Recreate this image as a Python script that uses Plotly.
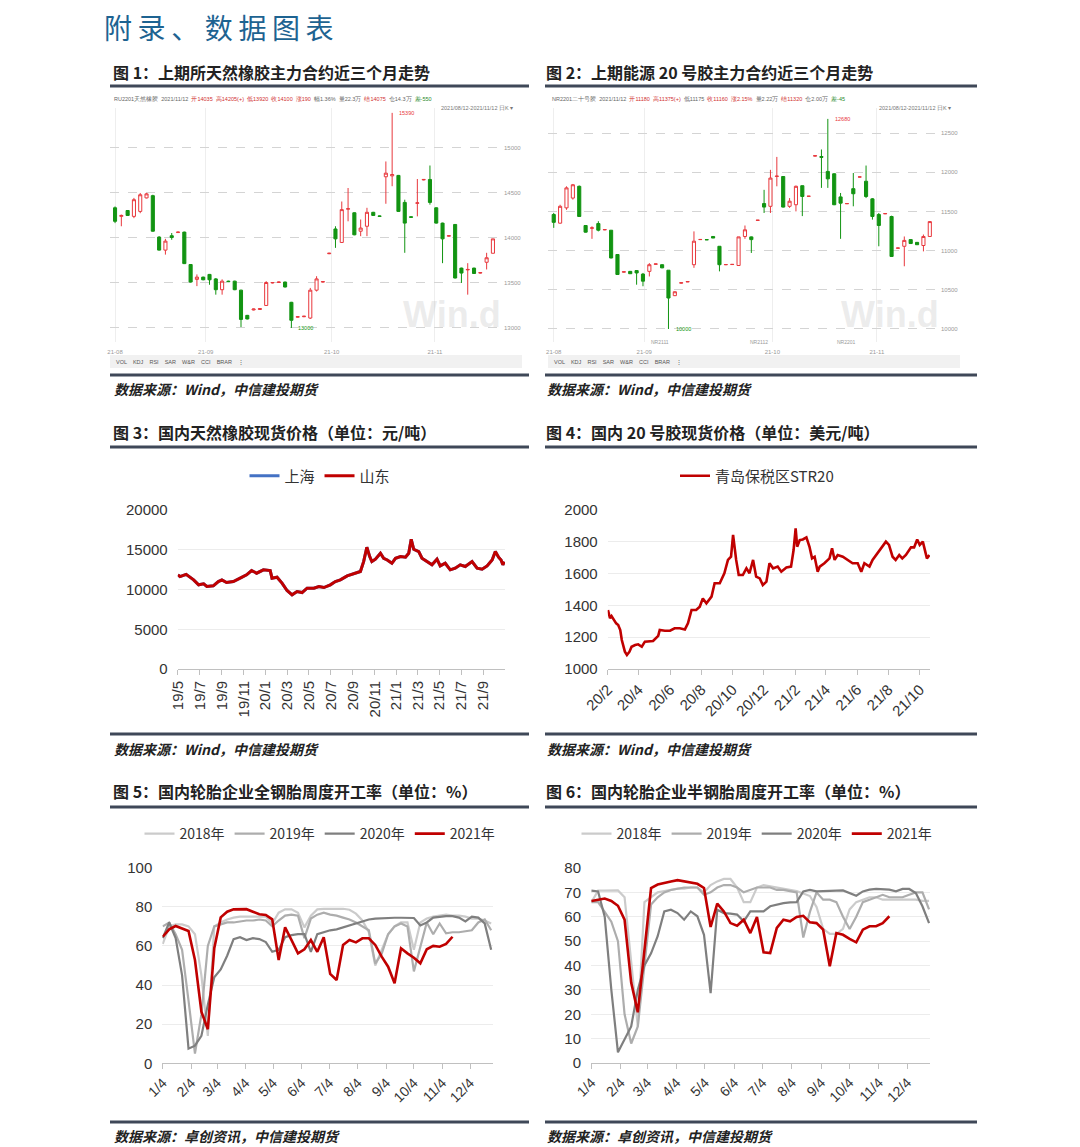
import plotly.graph_objects as go
import pandas as pd

# page is 1080x1147; the html body adds an 8px margin, so the figure starts at (8, 8)
PAGE_OFF = 8
W, H = 1080 - PAGE_OFF, 1147 - PAGE_OFF
def fx(x): return (x - PAGE_OFF) / W
def fy(y): return 1 - (y - PAGE_OFF) / H

# ---------------- data ----------------
# Fig 1: SHFE natural rubber main contract (daily K)
ru_open  = [14335,14240,14305,14240,14295,14445,14470,14010,13865,14025,14060,14065,13705,13540,13565,13595,13545,13425,13520,13520,
            13420,13140,13200,13205,13250,13500,13505,13510,13285,13120,13125,13110,13420,13510,13825,14100,13950,14320,14280,14075,
            14130,14285,14245,14680,14690,14695,14395,14235,14385,14645,14650,14335,14165,14020,14150,13665,13645,13665,13610,13730,13830]
ru_high  = [14350,14260,14310,14445,14500,14500,14480,14020,13990,14055,14070,14070,13710,13595,13570,13600,13555,13540,13525,13525,
            13425,13145,13215,13220,13520,13510,13515,13515,13290,13130,13135,13445,13575,13520,13835,14130,14405,14555,14285,14205,
            14335,14290,14250,14850,15390,14700,14425,14240,14655,14655,14805,14340,14170,14030,14155,13670,13720,13670,13620,13835,13990]
ru_low   = [14165,14130,14245,14220,14275,14440,14070,13860,13815,13980,14055,13710,13505,13465,13530,13480,13370,13370,13510,13420,
            13010,13095,13195,13200,13245,13495,13500,13450,13000,13115,13120,13100,13405,13505,13820,13890,13945,14185,14030,14020,
            14020,14245,14235,14380,14575,14290,13835,14225,14240,14640,14370,14160,13720,14015,13550,13500,13370,13600,13605,13650,13830]
ru_close = [14185,14250,14250,14425,14480,14490,14075,13865,13965,14005,14065,13715,13510,13565,13535,13535,13425,13520,13515,13425,
            13095,13100,13210,13215,13505,13505,13510,13455,13085,13125,13130,13420,13545,13515,13830,13990,14315,14325,14035,14110,
            14285,14250,14240,14720,14705,14295,14165,14230,14390,14650,14395,14165,13990,14025,13555,13610,13650,13605,13615,13780,13990]
ru_tick_pos = [0, 14.4, 34.4, 50.8]
ru_tick_text = ['21-08', '21-09', '21-10', '21-11']
ru_price_ticks = [13000, 13500, 14000, 14500, 15000]

# Fig 2: INE TSR20 main contract (daily K)
nr_open  = [11460,11350,11545,11670,11820,11320,11285,11345,11265,11260,10950,10725,10735,10745,10700,10735,10825,10820,10750,10425,
            10585,10600,10820,11140,11140,11180,11055,10820,10822,10810,11180,11175,11385,11600,11565,11945,11945,11565,11585,11828,
            11692,12205,12200,12010,11980,11685,11598,11790,11938,11885,11660,11460,11470,11435,11030,11055,11140,11105,11065,11180]
nr_high  = [11480,11585,11820,11850,11830,11325,11310,11375,11270,11262,10950,10730,10740,10748,10715,10840,10830,10825,10750,10480,
            10590,10605,11245,11145,11145,11185,11055,10825,10826,11175,11320,11180,11390,11775,12030,12195,11950,11670,11830,11830,
            11696,12215,12290,12680,11985,11735,11605,11990,11942,12085,11670,11480,11475,11445,11035,11180,11145,11110,11205,11375]
nr_low   = [11290,11345,11520,11650,11430,11230,11150,11245,11260,10900,10690,10720,10705,10565,10545,10670,10820,10775,10000,10420,
            10580,10598,10780,11135,11135,11160,10735,10815,10818,10805,11150,10970,11380,11480,11480,11820,11550,11545,11500,11440,
            11688,12200,11800,11800,11580,11150,11595,11565,11935,11670,11395,11055,11465,10920,11025,10800,11090,11075,10990,11180]
nr_close = [11360,11565,11800,11840,11435,11235,11290,11260,11268,10906,10695,10730,10705,10715,10610,10820,10830,10780,10395,10475,
            10590,10605,11120,11142,11138,11160,10820,10822,10824,11175,11265,11140,11388,11555,11925,11950,11555,11630,11820,11690,
            11694,12211,12190,11915,11585,11605,11600,11725,11940,11690,11435,11320,11472,10925,11033,11130,11090,11075,11180,11370]
nr_tick_pos = [0, 14.2, 34.3, 50.7]
nr_tick_text = ['21-08', '21-09', '21-10', '21-11']
nr_contract_pos = [16.6, 32.2, 46]
nr_contract_text = ['NR2111', 'NR2112', 'NR2201']
nr_price_ticks = [10000, 10500, 11000, 11500, 12000, 12500]

# Fig 3: domestic natural rubber spot price (yuan/t)
spot_dates = ['2019-05-01','2019-05-07','2019-05-24','2019-06-14','2019-06-28','2019-07-12','2019-07-21','2019-08-08','2019-08-22','2019-09-01',
              '2019-09-14','2019-10-03','2019-10-22','2019-11-09','2019-11-23','2019-12-07','2019-12-26','2020-01-14','2020-01-19','2020-02-02',
              '2020-02-16','2020-03-01','2020-03-15','2020-03-29','2020-04-12','2020-04-26','2020-05-15','2020-05-29','2020-06-12','2020-06-30',
              '2020-07-14','2020-07-28','2020-08-16','2020-09-03','2020-09-22','2020-10-01','2020-10-10','2020-10-18','2020-10-24','2020-11-03',
              '2020-11-17','2020-11-26','2020-12-06','2020-12-19','2020-12-29','2021-01-12','2021-01-26','2021-02-04','2021-02-11','2021-02-18',
              '2021-03-04','2021-03-13','2021-03-27','2021-04-10','2021-04-24','2021-05-03','2021-05-17','2021-05-31','2021-06-14','2021-06-28',
              '2021-07-12','2021-07-31','2021-08-14','2021-08-28','2021-09-11','2021-09-25','2021-10-04','2021-10-13','2021-10-20','2021-10-25',
              '2021-10-29']
spot_shandong = [11840,11630,11900,11210,10590,10710,10380,10460,11000,11210,10880,11000,11420,11840,12385,12050,12470,12385,11420,11550,
                 10800,9875,9330,9750,9620,10170,10170,10380,10250,10590,11000,11210,11715,11970,12260,13510,15310,14140,13510,13810,
                 14560,13930,13720,13300,13930,14140,14060,14560,16320,15060,14770,13930,13510,13100,13810,12970,13300,12470,12680,13100,
                 12890,13510,12680,12550,12970,13720,14770,14060,13720,13100,13510]
spot_shanghai = [11840,11630,11900,11210,10590,10710,10380,10460,11000,11210,10880,11000,11420,11840,12385,12050,12470,12385,11420,11550,
                 10800,9875,9330,9750,9620,10170,10170,10380,10250,10590,11000,11210,11715,11970,12260,13510,15310,14140,13510,13810,
                 14560,13930,13720,13300,13930,14140,14060,14560,16320,15060,14770,13930,13510,13100,13810,12970,13300,12470,12680,13100,
                 12890,13510,12680,12550,12970,13720,14770,14060,13720,13100,13510]

# Fig 4: Qingdao bonded STR20 (USD/t)
str20_dates = ['2020-02-01','2020-02-05','2020-02-08','2020-02-13','2020-02-17','2020-02-21','2020-02-25','2020-02-28','2020-03-02','2020-03-05',
               '2020-03-09','2020-03-14','2020-03-18','2020-03-25','2020-03-31','2020-04-07','2020-04-13','2020-04-20','2020-04-29','2020-05-09',
               '2020-05-12','2020-05-22','2020-06-01','2020-06-10','2020-06-20','2020-06-30','2020-07-06','2020-07-13','2020-07-22','2020-07-29',
               '2020-08-04','2020-08-11','2020-08-21','2020-08-27','2020-09-06','2020-09-15','2020-09-22','2020-09-28','2020-10-02','2020-10-08',
               '2020-10-13','2020-10-21','2020-10-28','2020-11-03','2020-11-10','2020-11-16','2020-11-23','2020-11-29','2020-12-06','2020-12-12',
               '2020-12-19','2020-12-28','2021-01-04','2021-01-14','2021-01-23','2021-01-28','2021-02-01','2021-02-04','2021-02-09','2021-02-15',
               '2021-02-22','2021-02-28','2021-03-05','2021-03-10','2021-03-16','2021-03-20','2021-03-29','2021-04-08','2021-04-13','2021-04-18',
               '2021-04-24','2021-05-04','2021-05-14','2021-05-23','2021-06-02','2021-06-09','2021-06-15','2021-06-25','2021-07-01','2021-07-08',
               '2021-07-17','2021-07-27','2021-08-02','2021-08-09','2021-08-15','2021-08-22','2021-08-28','2021-09-04','2021-09-14','2021-09-20',
               '2021-09-26','2021-10-01','2021-10-07','2021-10-13','2021-10-15','2021-10-20']
str20_price = [1371,1319,1333,1308,1287,1277,1245,1182,1151,1109,1088,1109,1140,1151,1155,1140,1172,1172,1176,1208,
               1245,1241,1241,1256,1256,1249,1287,1371,1371,1392,1444,1413,1455,1539,1539,1602,1686,1706,1843,1686,
               1591,1591,1633,1602,1686,1581,1570,1528,1549,1665,1633,1644,1612,1639,1644,1748,1885,1769,1811,1815,
               1828,1769,1696,1706,1612,1644,1665,1696,1759,1686,1717,1706,1686,1665,1665,1612,1665,1644,1686,1717,
               1753,1801,1780,1706,1686,1717,1696,1717,1765,1765,1815,1780,1801,1727,1696,1717]

# Fig 5 / Fig 6: weekly operating rates (%), one value per week from Jan 4
weeks = pd.date_range('2021-01-04', periods=52, freq='7D')
years = ['2018年', '2019年', '2020年', '2021年']
allsteel = {
    '2018年': [61,70,71,71,70,66,45,14,70,72,73.5,74.5,75,75,75,75,75,71.5,77,78.7,78.7,77,69.5,75.5,78.7,79,79,79,79,78.5,
              76.5,73,67,50,58,66,70,72,72,58,72,74,75,75.5,76,75.5,75.5,75,74,74,73,71.5],
    '2019年': [70,72,66,58,32,5,25,60,70,71,72,72,72.5,73,73,73.5,73,70,73,75.5,76,75.5,64,74,76,77,76,75.5,74.5,73.5,
              72,70,68,51,56,66,70,71.5,70,47,60,72,66,71.5,66.5,67,67,67.5,68,72,73.5,68],
    '2020年': [64,72,64,45,7.5,9,14,30,44,48,55,63.5,64.5,63,64,63.5,62,57,58,64.5,65.5,66,66,57,66,67,68,68.5,69.5,70.5,
              71.5,72.5,73.5,74,74.2,74.3,74.4,74.4,74.4,74.3,70.5,72,74.5,75,75.2,75.2,74.5,72.5,75,74.5,71.5,58],
    '2021年': [64.7,68.5,70.2,69,67.6,52.8,26.4,17.4,58.8,74.6,77.5,78.7,78.9,78.8,77.5,76.2,75.8,73.6,52.8,69.5,
              63,56.2,58.3,63,57,64.4,45.7,42.6,60.5,63,61.8,63.9,63.9,60.5,54.5,49.4,40.9,58.8,56.2,54,
              51.1,58.3,60,59.6,61,64.7,None,None,None,None,None,None],
}
semisteel = {
    '2018年': [66,70.7,70.7,70.8,70.8,68,40,15,66,68,70,70.5,71,71.5,71.5,72,72,70,73,74.5,75.5,75.5,72,66,66,72,73,72.5,72,71.5,
              71,70.5,69.5,68.5,64,55,53,53,55,63,66,67,68,68,67,67,67,67,67,67,66.5,66.5],
    '2019年': [66,66,62,58,50,20,8,15,40,65,68,70,71,71.5,72,72,72,69,70,72,73,73,72,70,71,72,72,72,71,71,
              70.5,70,51.5,62,70,67,67,66,60,55,60,66,67,68,69,68,68,68,69,70,70,63],
    '2020年': [70.7,70.4,60,30,4.4,9.6,15,30,40,45,52,62.2,62.9,61.5,58.8,62.2,60.2,52.6,28.7,62.9,61.5,61.3,60.9,58.1,62.2,62.2,
              62.2,64.3,65,65.6,65.9,66,70.4,71,70.4,70.4,70.5,70.7,70.8,69.7,68.6,70.4,71.1,71.4,71.4,71.1,70.4,71.4,71.4,69.7,64.3,57.4],
    '2021年': [66.5,67,67.5,66.5,64.5,58.8,33,20.8,45,71.8,73.2,74,74.5,75,74.5,74,73.5,71.8,55.8,65.4,62.2,57.4,56.3,58.8,
              53.3,59.9,45.4,45.1,55.4,58.8,58.1,59.9,60.4,57.7,57.4,54.7,39.7,53.3,52.6,50.9,49.5,54.7,56.1,56.1,57.4,60.2,
              None,None,None,None,None,None],
}

# ---------------- styles ----------------
year_colors = {'2018年': '#cbcbcb', '2019年': '#adadad', '2020年': '#7f7f7f', '2021年': '#c00000'}
year_widths = {'2018年': 2.2, '2019年': 2.2, '2020年': 2.2, '2021年': 2.6}
RED = '#c00000'
UP = '#e8383d'
DOWN = '#129412'
NUMFONT = 'Liberation Sans, Arial, sans-serif'
CJK = 'Noto Sans CJK SC, Noto Sans, sans-serif'

fig = go.Figure()

# ---- candlesticks ----
fig.add_trace(go.Candlestick(
    x=list(range(len(ru_open))), open=ru_open, high=ru_high, low=ru_low, close=ru_close,
    xaxis='x', yaxis='y', showlegend=False, whiskerwidth=0,
    increasing=dict(line=dict(color=UP, width=1), fillcolor='white'),
    decreasing=dict(line=dict(color=DOWN, width=1), fillcolor=DOWN)))
fig.add_trace(go.Candlestick(
    x=list(range(len(nr_open))), open=nr_open, high=nr_high, low=nr_low, close=nr_close,
    xaxis='x2', yaxis='y2', showlegend=False, whiskerwidth=0,
    increasing=dict(line=dict(color=UP, width=1), fillcolor='white'),
    decreasing=dict(line=dict(color=DOWN, width=1), fillcolor=DOWN)))

# ---- fig 3 ----
fig.add_trace(go.Scatter(x=spot_dates, y=spot_shanghai, name='上海', mode='lines',
                         line=dict(color='#4472c4', width=3), xaxis='x3', yaxis='y3', legend='legend'))
fig.add_trace(go.Scatter(x=spot_dates, y=spot_shandong, name='山东', mode='lines',
                         line=dict(color=RED, width=3), xaxis='x3', yaxis='y3', legend='legend'))
# ---- fig 4 ----
fig.add_trace(go.Scatter(x=str20_dates, y=str20_price, name='青岛保税区STR20', mode='lines',
                         line=dict(color=RED, width=2.6), xaxis='x4', yaxis='y4', legend='legend2'))
# ---- fig 5 / 6 ----
for yr in years:
    fig.add_trace(go.Scatter(x=weeks, y=allsteel[yr], name=yr, mode='lines',
                             line=dict(color=year_colors[yr], width=year_widths[yr]),
                             xaxis='x5', yaxis='y5', legend='legend3'))
for yr in years:
    fig.add_trace(go.Scatter(x=weeks, y=semisteel[yr], name=yr, mode='lines',
                             line=dict(color=year_colors[yr], width=year_widths[yr]),
                             xaxis='x6', yaxis='y6', legend='legend4'))

# ---------------- axes ----------------
wind_x = dict(showline=False, zeroline=False, showgrid=True, gridcolor='#eeeeee', ticks='', automargin=False,
              ticklabelstandoff=5,
              tickfont=dict(size=6, color='#9a9a9a', family=NUMFONT), rangeslider=dict(visible=False),
              fixedrange=True)
wind_y = dict(side='right', showline=False, zeroline=False, showgrid=True, gridcolor='#d4d4d4', automargin=False,
              griddash='dash', ticks='', tickformat='d', tickfont=dict(size=6, color='#9a9a9a', family=NUMFONT))

line_y = dict(showline=False, zeroline=False, showgrid=True, gridcolor='#ececec', ticks='', automargin=False,
              tickformat='d', ticklabelstandoff=9, tickfont=dict(size=15, color='#333', family=NUMFONT))
line_x = dict(type='date', showline=True, linecolor='#c0c0c0', linewidth=1, ticks='outside', ticklen=5,
              tickcolor='#c0c0c0', showgrid=False, zeroline=False, automargin=False,
              tickfont=dict(size=15, color='#333', family=NUMFONT))

fig.update_layout(
    xaxis=dict(wind_x, domain=[fx(110), fx(503)], range=[-0.8, 61.6], anchor='y',
               tickvals=ru_tick_pos, ticktext=ru_tick_text),
    yaxis=dict(wind_y, domain=[fy(342), fy(108)], range=[12844, 15444], anchor='x',
               tickvals=ru_price_ticks),
    xaxis2=dict(wind_x, domain=[fx(548), fx(940)], range=[-0.9, 60.6], anchor='y2',
                tickvals=nr_tick_pos, ticktext=nr_tick_text),
    yaxis2=dict(wind_y, domain=[fy(342), fy(108)], range=[9834, 12819], anchor='x2',
                tickvals=nr_price_ticks),
    xaxis3=dict(line_x, domain=[fx(177.7), fx(505)], range=['2019-04-30 12:00', '2021-10-31'],
                tick0='2019-05-01', dtick='M2', tickformat='%y/%-m', tickangle=-90, anchor='y3'),
    yaxis3=dict(line_y, domain=[fy(669), fy(510)], range=[0, 20000], dtick=5000, anchor='x3'),
    xaxis4=dict(line_x, domain=[fx(607.7), fx(930)], range=['2020-01-31 12:00', '2021-10-21'],
                tick0='2020-02-01', dtick='M2', tickformat='%y/%-m', tickangle=-45, anchor='y4'),
    yaxis4=dict(line_y, domain=[fy(669), fy(510)], range=[1000, 2000], dtick=200, anchor='x4'),
    xaxis5=dict(line_x, domain=[fx(162.3), fx(493)], range=['2021-01-03 12:00', '2021-12-29'],
                tick0='2021-01-04', dtick='M1', tickformat='%-m/%-d', tickangle=-45, anchor='y5',
                tickfont=dict(size=14, color='#333', family=NUMFONT)),
    yaxis5=dict(line_y, domain=[fy(1063.3), fy(867.7)], range=[0, 100], dtick=20, anchor='x5'),
    xaxis6=dict(line_x, domain=[fx(591), fx(930)], range=['2021-01-03 12:00', '2021-12-28'],
                tick0='2021-01-04', dtick='M1', tickformat='%-m/%-d', tickangle=-45, anchor='y6',
                tickfont=dict(size=14, color='#333', family=NUMFONT)),
    yaxis6=dict(line_y, domain=[fy(1063), fy(868)], range=[0, 80], dtick=10, anchor='x6'),
)

leg_common = dict(orientation='h', xanchor='center', yanchor='middle', bgcolor='rgba(0,0,0,0)',
                  tracegroupgap=0, itemclick=False)
fig.update_layout(
    legend=dict(leg_common, x=fx(320), y=fy(476), font=dict(size=15, color='#333', family=CJK)),
    legend2=dict(leg_common, x=fx(757), y=fy(476), font=dict(size=15, color='#333', family=CJK)),
    legend3=dict(leg_common, x=fx(320), y=fy(834), font=dict(size=14, color='#333', family=CJK)),
    legend4=dict(leg_common, x=fx(757), y=fy(834), font=dict(size=14, color='#333', family=CJK)),
)

# ---------------- page decorations ----------------
shapes = []
def hline(x0, x1, y, color='#3f4858', width=3):
    shapes.append(dict(type='line', xref='paper', yref='paper', x0=fx(x0), x1=fx(x1), y0=fy(y), y1=fy(y),
                       line=dict(color=color, width=width), layer='above'))
for yline in [86, 375, 447, 734, 807, 1122]:
    hline(110, 529, yline)
    hline(545, 977, yline)
# Wind bottom toolbars
for (a, b) in [(110, 522), (548, 960)]:
    shapes.append(dict(type='rect', xref='paper', yref='paper', x0=fx(a), x1=fx(b), y0=fy(368), y1=fy(355),
                       fillcolor='#f1f1f1', line=dict(width=0), layer='below'))
fig.update_layout(shapes=shapes)

ann = []
def text(x, y, s, size, color='#222', family=CJK, xanchor='left', yanchor='middle', xref='paper', yref='paper', yshift=0):
    ann.append(dict(x=x if xref != 'paper' else fx(x), y=y if yref != 'paper' else fy(y), xref=xref, yref=yref,
                    text=s, showarrow=False, xanchor=xanchor, yanchor=yanchor, yshift=yshift,
                    font=dict(size=size, color=color, family=family)))

text(102, 27, '附\u2009录\u2009、\u2009数\u2009据\u2009图\u2009表', 28, color='#1d6391')
text(111, 72, '<b>图 1：上期所天然橡胶主力合约近三个月走势</b>', 16)
text(544, 72, '<b>图 2：上期能源 20 号胶主力合约近三个月走势</b>', 16)
text(111, 432, '<b>图 3：国内天然橡胶现货价格（单位：元/吨）</b>', 16)
text(544, 432, '<b>图 4：国内 20 号胶现货价格（单位：美元/吨）</b>', 16)
text(111, 791, '<b>图 5：国内轮胎企业全钢胎周度开工率（单位：%）</b>', 16)
text(544, 791, '<b>图 6：国内轮胎企业半钢胎周度开工率（单位：%）</b>', 16)
for (xx, yy, src) in [(112, 389, '数据来源：Wind，中信建投期货'), (545, 389, '数据来源：Wind，中信建投期货'),
                      (112, 749, '数据来源：Wind，中信建投期货'), (545, 749, '数据来源：Wind，中信建投期货'),
                      (112, 1136, '数据来源：卓创资讯，中信建投期货'), (545, 1136, '数据来源：卓创资讯，中信建投期货')]:
    text(xx, yy, '<b><i>' + src + '</i></b>', 14)

# Wind header info lines (tiny)
g, r, k = '#2a8a2a', '#d03030', '#666'
text(112, 98, f"<span style='color:{k}'>RU2201天然橡胶</span>  <span style='color:{k}'>2021/11/12</span>  "
              f"<span style='color:{r}'>开14035</span>  <span style='color:{r}'>高14205(+)</span>  <span style='color:{r}'>低13920</span>  "
              f"<span style='color:{r}'>收14100</span>  <span style='color:{r}'>涨190</span>  <span style='color:{k}'>幅1.36%</span>  "
              f"<span style='color:{k}'>量22.3万</span>  <span style='color:{r}'>结14075</span>  <span style='color:{k}'>仓14.3万</span>  "
              f"<span style='color:{g}'>差-550</span>", 5.5, family=NUMFONT)
text(550, 98, f"<span style='color:{k}'>NR2201二十号胶</span>  <span style='color:{k}'>2021/11/12</span>  "
              f"<span style='color:{r}'>开11180</span>  <span style='color:{r}'>高11375(+)</span>  <span style='color:{k}'>低11175</span>  "
              f"<span style='color:{r}'>收11160</span>  <span style='color:{r}'>涨2.15%</span>  <span style='color:{k}'>量2.22万</span>  "
              f"<span style='color:{r}'>结11320</span>  <span style='color:{k}'>仓2.00万</span>  <span style='color:{g}'>差-45</span>", 5.5, family=NUMFONT)
text(515, 108, "2021/08/12-2021/11/12 日K ▾", 5.5, color='#777', family=NUMFONT, xanchor='right')
text(953, 108, "2021/08/12-2021/11/12 日K ▾", 5.5, color='#777', family=NUMFONT, xanchor='right')
# Wind toolbar labels
text(114, 361.5, "VOL    KDJ    RSI    SAR    W&R    CCI    BRAR    ⋮", 5.5, color='#555', family=NUMFONT)
text(552, 361.5, "VOL    KDJ    RSI    SAR    W&R    CCI    BRAR    ⋮", 5.5, color='#555', family=NUMFONT)
# Wind watermark
text(452, 314, "<b>Win.d</b>", 36, color='rgba(200,200,200,0.35)', family=NUMFONT, xanchor='center')
text(890, 314, "<b>Win.d</b>", 36, color='rgba(200,200,200,0.35)', family=NUMFONT, xanchor='center')

# max / min markers on the K charts
i_hi = max(range(len(ru_high)), key=lambda i: ru_high[i])
i_lo = min(range(len(ru_low)), key=lambda i: ru_low[i])
text(i_hi + 0.8, ru_high[i_hi], f"{ru_high[i_hi]}", 5.5, color=UP, family=NUMFONT, xref='x', yref='y')
text(i_lo + 0.8, ru_low[i_lo], f"{ru_low[i_lo]}", 5.5, color=DOWN, family=NUMFONT, xref='x', yref='y')
j_hi = max(range(len(nr_high)), key=lambda i: nr_high[i])
j_lo = min(range(len(nr_low)), key=lambda i: nr_low[i])
text(j_hi + 0.8, nr_high[j_hi], f"{nr_high[j_hi]}", 5.5, color=UP, family=NUMFONT, xref='x2', yref='y2')
text(j_lo + 0.8, nr_low[j_lo], f"{nr_low[j_lo]}", 5.5, color=DOWN, family=NUMFONT, xref='x2', yref='y2')
for p, t in zip(nr_contract_pos, nr_contract_text):
    ann.append(dict(x=p, y=fy(342), xref='x2', yref='paper', text=t, showarrow=False, xanchor='center',
                    yanchor='middle', font=dict(size=5, color='#9a9a9a', family=NUMFONT)))

fig.update_layout(annotations=ann)

fig.update_layout(
    width=W, height=H, margin=dict(l=0, r=0, t=0, b=0, autoexpand=False),
    paper_bgcolor='white', plot_bgcolor='white',
    font=dict(family=CJK, color='#333'),
    hovermode=False,
)

fig.write_html("out.html")
